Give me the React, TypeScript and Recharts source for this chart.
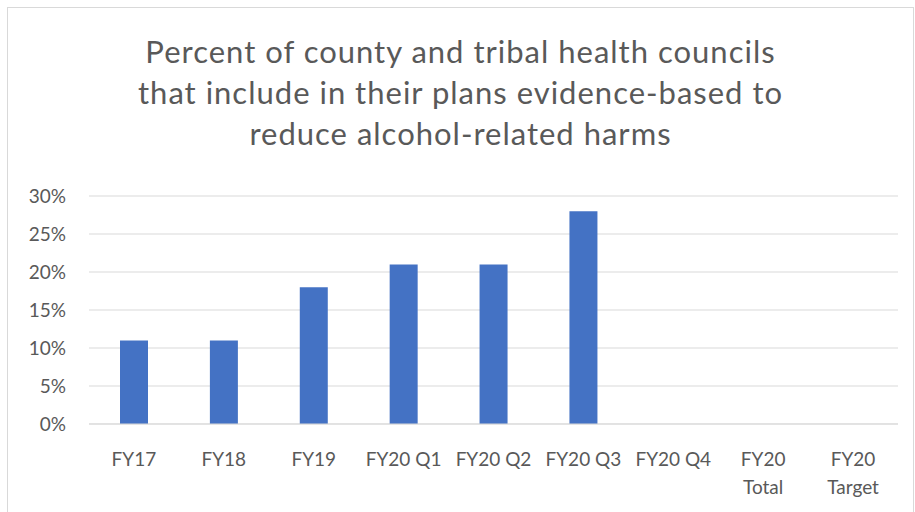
import React from 'react';
import { BarChart, Bar, XAxis, YAxis, CartesianGrid } from 'recharts';

const categories = ['FY17', 'FY18', 'FY19', 'FY20 Q1', 'FY20 Q2', 'FY20 Q3', 'FY20 Q4', 'FY20\nTotal', 'FY20\nTarget'];
const percentValues: (number | null)[] = [11, 11, 18, 21, 21, 28, null, null, null];
const yTicks = [0, 5, 10, 15, 20, 25, 30];
const titleLines = [
  'Percent of county and tribal health councils',
  'that include in their plans evidence-based to',
  'reduce alcohol-related harms',
];

const FONT = 'Lato, "Open Sans", sans-serif';
const TEXT_COLOR = '#595959';

const chartData = categories.map((name, i) => ({ name, value: percentValues[i] }));

const XTick = ({ x, y, payload }: any) => {
  const lines = String(payload.value).split('\n');
  return (
    <text x={x} y={y} textAnchor="middle" fill={TEXT_COLOR} fontSize={19} fontFamily={FONT}>
      {lines.map((line, i) => (
        <tspan key={i} x={x} dy={i === 0 ? 34 : 28}>
          {line}
        </tspan>
      ))}
    </text>
  );
};

export default function App() {
  return (
    <div style={{ position: 'absolute', left: 0, top: 0, width: 915, height: 512, overflow: 'hidden', background: '#fff' }}>
      <div
        style={{
          position: 'absolute',
          left: 7,
          top: 7,
          width: 907,
          height: 520,
          border: '1px solid #d9d9d9',
          boxSizing: 'border-box',
        }}
      />
      <div
        style={{
          position: 'absolute',
          left: 8,
          top: 31,
          width: 905,
          textAlign: 'center',
          fontFamily: FONT,
          fontSize: 31,
          letterSpacing: 1,
          lineHeight: '41px',
          color: TEXT_COLOR,
        }}
      >
        {titleLines.map((l, i) => (
          <div key={i}>{l}</div>
        ))}
      </div>
      <div style={{ position: 'absolute', left: 0, top: 0 }}>
        <BarChart width={915} height={512} data={chartData} margin={{ top: 196, right: 17, bottom: 28, left: 0 }}>
          <CartesianGrid vertical={false} stroke="#d9d9d9" strokeWidth={1} />
          <XAxis
            dataKey="name"
            interval={0}
            height={60}
            axisLine={{ stroke: '#d9d9d9' }}
            tickLine={false}
            tick={<XTick />}
          />
          <YAxis
            width={89}
            domain={[0, 30]}
            ticks={yTicks}
            axisLine={false}
            tickLine={false}
            tickSize={0}
            tickMargin={23}
            tickFormatter={(v: number) => `${v}%`}
            tick={{ fill: TEXT_COLOR, fontSize: 19, fontFamily: FONT }}
          />
          <Bar dataKey="value" fill="#4472C4" barSize={28} isAnimationActive={false} />
        </BarChart>
      </div>
    </div>
  );
}
